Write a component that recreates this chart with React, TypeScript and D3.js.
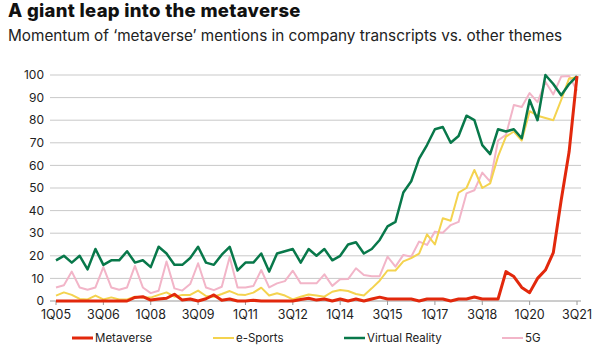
import * as d3 from "d3";

// quarterly series, 1Q05 .. 3Q21
const quarters: string[] = [];
for (let yr = 5; yr <= 21; yr++) {
     for (let q = 1; q <= 4; q++) {
          if (yr === 21 && q > 3) break;
          quarters.push(q + "Q" + String(yr).padStart(2, "0"));
     }
}

const metaverse = [
     0, 0, 0, 0, 0, 0, 0, 0, 0, 0,
     1.6, 1.9, 0.4, 0.9, 1.2, 3, 0.4, 0.9, 0, 1,
     2.7, 0.3, 0.9, 0, 0, 0.3, 0, 0, 0, 0,
     0, 0.7, 1.2, 0.4, 0.9, 0, 0.9, 0, 0.9, 0,
     0.9, 1.7, 0.9, 0.9, 0.9, 0.9, 0, 0.9, 0.9, 0.9,
     0, 0.9, 0.9, 1.8, 0.9, 0.9, 0.9, 13, 10.8, 6,
     3.7, 10, 13.7, 21.4, 44.7, 66, 99.5,
];
const eSports = [
     2.4, 3.8, 2.7, 0.9, 0.7, 2.4, 0.7, 1.6, 0.7, 0.7,
     1.9, 1.5, 1.5, 2.7, 3.8, 1.9, 2.7, 2.7, 4.6, 2.2,
     1.9, 3.1, 4.4, 2.9, 2.7, 3.7, 5.9, 2.4, 3.4, 2.4,
     0.7, 1.9, 2.9, 2.4, 1.9, 4.1, 4.9, 4.4, 3.1, 2.4,
     5.6, 9, 13.5, 13.5, 17.5, 19, 21, 29.5, 25, 36.6,
     35.5, 48, 50, 58, 50, 52, 64, 72.7, 75, 71,
     84, 82, 81, 80, 89, 98.5, 99,
];
const virtualReality = [
     18, 20, 17, 20, 14, 23, 16, 18, 18, 22,
     17, 18, 15, 24, 21, 16, 16, 19, 24, 17,
     16, 20.5, 24, 13.5, 17, 17, 21, 13, 21, 22,
     23, 17, 23, 20, 23, 18, 20, 25, 26, 21,
     23, 27, 33, 35, 48, 53, 63, 69, 76, 77,
     70, 73, 82, 80, 69, 65, 76, 75, 76, 72,
     89, 80, 100, 96, 91, 96, 99.5,
];
const fiveG = [
     6, 7, 13, 6, 5, 6, 15, 6, 5, 6,
     15.5, 6, 3.5, 4.5, 17.5, 5.6, 4.6, 7.5, 16.7, 6,
     4.8, 6.3, 19.5, 6, 6, 6.6, 13.7, 6, 7.8, 8.8,
     13.4, 7.8, 7.8, 7.8, 11.8, 6.7, 9.6, 9.7, 14.5, 11.5,
     11, 11, 19.6, 15.2, 20.4, 19.6, 26.3, 24.8, 30.7, 30.2,
     33.6, 35, 47.6, 49, 56.8, 52.8, 71, 73.5, 86.7, 85.8,
     92, 88, 97, 91.4, 99.3, 99.6, 93,
];

const yTicks = [0, 10, 20, 30, 40, 50, 60, 70, 80, 90, 100];
const xTickLabels = ["1Q05", "3Q06", "1Q08", "3Q09", "1Q11", "3Q12", "1Q14", "3Q15", "1Q17", "3Q18", "1Q20", "3Q21"];

const seriesNames = ["Metaverse", "e-Sports", "Virtual Reality", "5G"];
const seriesValues = [metaverse, eSports, virtualReality, fiveG];
const colors = ["#e2280c", "#f4d34f", "#08784a", "#f2b5c8"];
const widths = [3, 2, 2.5, 2];
const drawOrder = [3, 1, 2, 0];
const legendX = [72, 213, 344, 502];

const font = "Inter, 'Noto Sans', sans-serif";

export default function App() {
     const width = 600;
     const height = 350;

     const x = d3.scalePoint<string>()
          .domain(quarters)
          .range([56, 577]);

     const y = d3.scaleLinear()
          .domain([0, 100])
          .range([301, 75]);

     const line = d3.line<number>()
          .x((_d, i) => x(quarters[i]) as number)
          .y((d) => y(d));

     return (
          <svg
               width={width}
               height={height}
               style={{ position: "absolute", left: 0, top: 0, background: "#fff" }}
               fontFamily={font}
          >
               <text x={8} y={17} fontSize={18.5} fontWeight={800} letterSpacing={0.3} fill="#111">
                    A giant leap into the metaverse
               </text>
               <text x={8} y={41} fontSize={15.3} fill="#222">
                    Momentum of ‘metaverse’ mentions in company transcripts vs. other themes
               </text>

               {yTicks.map((t) => (
                    <g key={t}>
                         {t > 0 && (
                              <line x1={50} x2={581} y1={y(t)} y2={y(t)} stroke="#c9c9c9" strokeWidth={1} />
                         )}
                         <text x={44} y={y(t)} dy="0.35em" textAnchor="end" fontSize={12} fill="#222">
                              {t}
                         </text>
                    </g>
               ))}

               <line x1={50} x2={581} y1={y(0)} y2={y(0)} stroke="#9a9a9a" strokeWidth={1} />
               {xTickLabels.map((lab) => (
                    <g key={lab} transform={`translate(${x(lab)},${y(0)})`}>
                         <line y1={0} y2={4} stroke="#9a9a9a" />
                         <text y={18} textAnchor="middle" fontSize={12.5} fill="#222">
                              {lab}
                         </text>
                    </g>
               ))}

               {drawOrder.map((k) => (
                    <path
                         key={seriesNames[k]}
                         d={line(seriesValues[k]) || ""}
                         fill="none"
                         stroke={colors[k]}
                         strokeWidth={widths[k]}
                         strokeLinejoin="round"
                    />
               ))}

               {seriesNames.map((name, k) => (
                    <g key={name} transform={`translate(${legendX[k]},338)`}>
                         <line x1={0} x2={21} y1={0} y2={0} stroke={colors[k]} strokeWidth={widths[k]} />
                         <text x={23} y={0} dy="0.35em" fontSize={11.5} fill="#222">
                              {name}
                         </text>
                    </g>
               ))}
          </svg>
     );
}
